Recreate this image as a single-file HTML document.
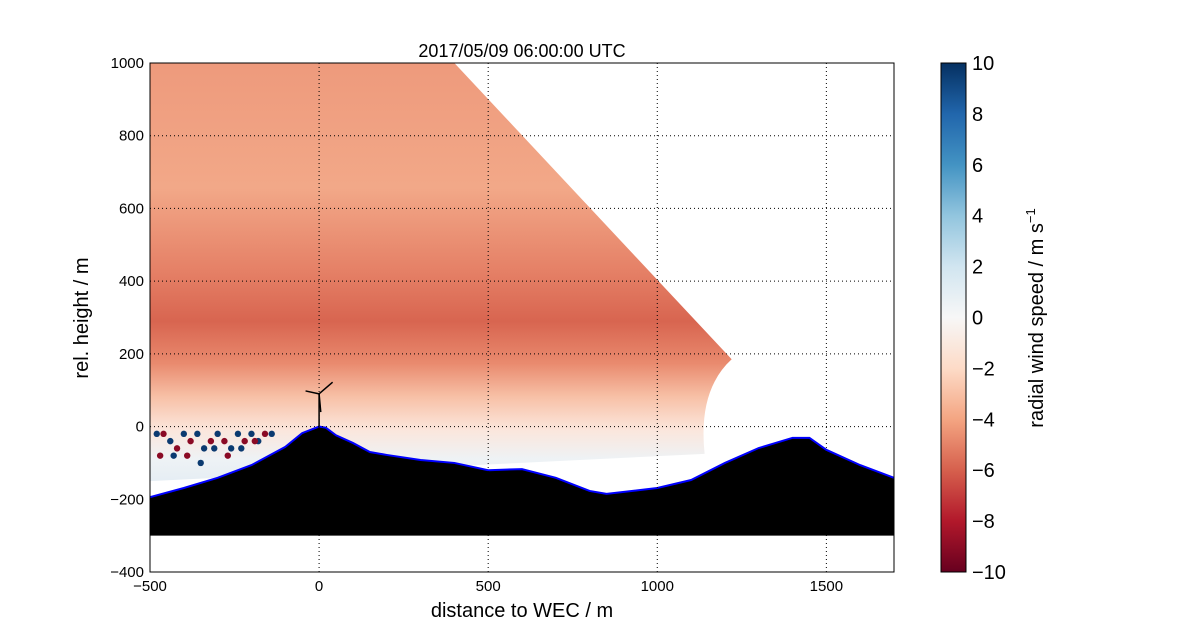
<!DOCTYPE html>
<html><head><meta charset="utf-8"><style>
body{margin:0;background:#fff;font-family:"Liberation Sans",sans-serif}
svg{display:block}
</style></head><body>
<svg id="c" width="1200" height="636" xmlns="http://www.w3.org/2000/svg">
<defs>
<linearGradient id="wind" gradientUnits="userSpaceOnUse" x1="0" y1="63" x2="0" y2="480">
<stop offset="0" stop-color="#ee9a7c"/>
<stop offset="0.3" stop-color="#f2a888"/>
<stop offset="0.5" stop-color="#e58066"/>
<stop offset="0.62" stop-color="#d86550"/>
<stop offset="0.72" stop-color="#e98a6e"/>
<stop offset="0.8" stop-color="#f7c0a6"/>
<stop offset="0.88" stop-color="#fbe6dc"/>
<stop offset="0.95" stop-color="#eef2f5"/>
<stop offset="1" stop-color="#e6eef4"/>
</linearGradient>
<linearGradient id="cb" x1="0" y1="1" x2="0" y2="0">
<stop offset="0" stop-color="#67001f"/><stop offset="0.1" stop-color="#b2182b"/>
<stop offset="0.2" stop-color="#d6604d"/><stop offset="0.3" stop-color="#f4a582"/>
<stop offset="0.4" stop-color="#fddbc7"/><stop offset="0.5" stop-color="#f7f7f7"/>
<stop offset="0.6" stop-color="#d1e5f0"/><stop offset="0.7" stop-color="#92c5de"/>
<stop offset="0.8" stop-color="#4393c3"/><stop offset="0.9" stop-color="#2166ac"/>
<stop offset="1" stop-color="#053061"/>
</linearGradient>
<clipPath id="plotclip"><rect x="150" y="63" width="744" height="509"/></clipPath>
</defs>
<g id="plot" clip-path="url(#plotclip)"></g>
<g id="axes"></g>
</svg>
<script>
const distances=[-500,-400,-300,-200,-100,-50,0,20,50,100,150,200,300,400,500,600,700,800,850,1000,1100,1200,1300,1400,1450,1500,1600,1700];
const heights=[-194,-169,-141,-106,-56,-18,0,-3,-24,-45,-70,-78,-92,-100,-120,-117,-141,-177,-185,-169,-147,-100,-59,-31,-31,-64,-106,-141];
const xTicks=[-500,0,500,1000,1500];
const yTicks=[-400,-200,0,200,400,600,800,1000];
const cbTicks=[-10,-8,-6,-4,-2,0,2,4,6,8,10];
const NS='http://www.w3.org/2000/svg';
const X=v=>150+(v+500)*744/2200;
const Y=v=>572-(v+400)*509/1400;
const CB=v=>572-(v+10)*509/20;
function mk(t,a,p){const e=document.createElementNS(NS,t);for(const k in a)e.setAttribute(k,a[k]);(p||document.getElementById('c')).appendChild(e);return e;}
const plot=document.getElementById('plot'),axes=document.getElementById('axes');
let w=mk('path',{d:`M${X(-500)} ${Y(1000)} L${X(400)} ${Y(1000)} L${X(1220)} ${Y(185)} Q${X(1120)} ${Y(100)} ${X(1140)} ${Y(-75)} L${X(-500)} ${Y(-150)} Z`,fill:'url(#wind)'},plot);


const dotX=[-480,-460,-440,-420,-400,-380,-360,-340,-320,-300,-280,-260,-240,-220,-200,-180,-160,-140,-470,-430,-390,-350,-310,-270,-230,-190];
const dotH=[-20,-20,-40,-60,-20,-40,-20,-60,-40,-20,-40,-60,-20,-40,-20,-40,-20,-20,-80,-80,-80,-100,-60,-80,-60,-40];
const dotV=[8,-9,9,-8,9,-9,8,9,-9,8,-8,9,6,-9,9,9,-8,8,-9,9,-9,9,8,-9,9,-8];
dotX.forEach((d,i)=>{const c=mk('circle',{cx:X(d),cy:Y(dotH[i]),r:3.2,fill:dotV[i]>0?'#0b3a70':'#8a0a25'},plot);

});
let td=`M${X(distances[0])} ${Y(-300)}`;distances.forEach((d,i)=>td+=` L${X(d)} ${Y(heights[i])}`);td+=` L${X(1700)} ${Y(-300)} Z`;
const tr=mk('path',{d:td,fill:'#000'},plot);


let tl='';distances.forEach((d,i)=>tl+=(i?' L':'M')+X(d)+' '+Y(heights[i]));
const tline=mk('path',{d:tl,fill:'none',stroke:'#0000ff','stroke-width':2},plot);


const tb=mk('g',{stroke:'#000','stroke-width':1.5},plot);


mk('line',{x1:X(0),y1:Y(0),x2:X(0),y2:Y(90)},tb);
mk('line',{x1:X(0),y1:Y(90),x2:X(40),y2:Y(122)},tb);
mk('line',{x1:X(0),y1:Y(90),x2:X(-40),y2:Y(98)},tb);
mk('line',{x1:X(0),y1:Y(90),x2:X(5),y2:Y(40)},tb);
xTicks.forEach(v=>{const l=mk('line',{x1:X(v),y1:63,x2:X(v),y2:572,stroke:'#000','stroke-dasharray':'1,3','stroke-width':1},axes);
});
yTicks.forEach(v=>{const l=mk('line',{x1:150,y1:Y(v),x2:894,y2:Y(v),stroke:'#000','stroke-dasharray':'1,3','stroke-width':1},axes);
});
const fr=mk('rect',{x:150,y:63,width:744,height:509,fill:'none',stroke:'#000'},axes);

xTicks.forEach(v=>{const t=mk('text',{x:X(v),y:591,'text-anchor':'middle','font-size':15},axes);t.textContent=v<0?'\u2212'+(-v):v;
});
yTicks.forEach(v=>{const t=mk('text',{x:144,y:Y(v)+5,'text-anchor':'end','font-size':15},axes);t.textContent=v<0?'\u2212'+(-v):v;
});
let t=mk('text',{x:522,y:617,'text-anchor':'middle','font-size':20},axes);t.textContent='distance to WEC / m';

t=mk('text',{x:88,y:318,'text-anchor':'middle','font-size':20,transform:'rotate(-90 88 318)'},axes);t.textContent='rel. height / m';

t=mk('text',{x:522,y:57,'text-anchor':'middle','font-size':18},axes);t.textContent='2017/05/09 06:00:00 UTC';

const cb=mk('rect',{x:941,y:63,width:25,height:509,fill:'url(#cb)',stroke:'#000'},axes);

cbTicks.forEach(v=>{const tx=mk('text',{x:972,y:CB(v)+7,'font-size':20},axes);tx.textContent=v<0?'\u2212'+(-v):v;
});
t=mk('text',{x:1043,y:318,'text-anchor':'middle','font-size':20,transform:'rotate(-90 1043 318)'},axes);
t.innerHTML='radial wind speed / m s<tspan dy="-8" font-size="13">\u22121</tspan>';

</script>
</body></html>
